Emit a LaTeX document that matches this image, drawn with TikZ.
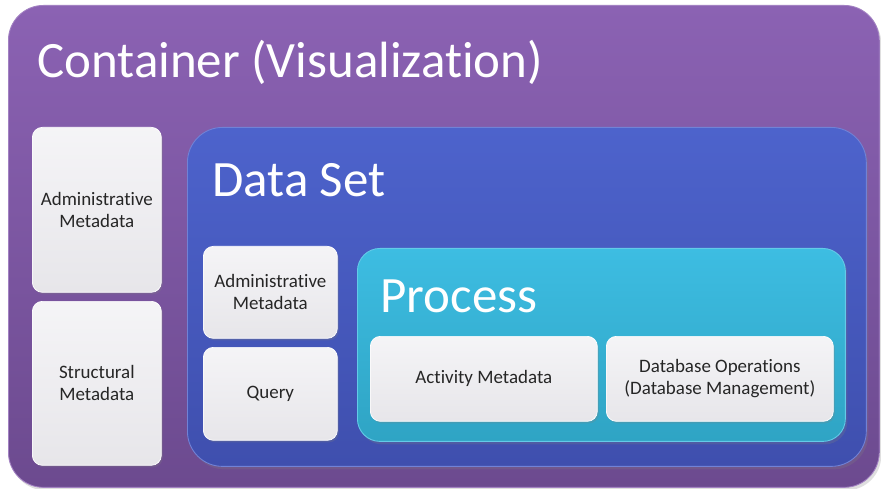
\documentclass[tikz,border=0pt]{standalone}
\usepackage{fontspec}
\setmainfont[Ligatures=NoCommon]{Carlito}
\usetikzlibrary{positioning,shadows}
\definecolor{purpletop}{HTML}{8B62B3}
\definecolor{purplebot}{HTML}{6C4A8F}
\definecolor{bluetop}{HTML}{4D63CC}
\definecolor{bluebot}{HTML}{3F4FAE}
\definecolor{cyantop}{HTML}{3DBDE2}
\definecolor{cyanbot}{HTML}{2FA4C4}
\definecolor{boxfill}{HTML}{EEEDF1}
\definecolor{boxtext}{HTML}{262626}

\begin{document}
\begin{tikzpicture}[x=0.02cm, y=-0.02cm,
    frame/.style={rectangle, anchor=north west, rounded corners=0.7cm, draw=white!20!#1top, line width=0.5pt,
        top color=#1top, bottom color=#1bot, drop shadow={opacity=0.25, shadow xshift=0.04cm, shadow yshift=-0.06cm}},
    title/.style={anchor=base west, inner sep=0pt, text=white, font=\fontsize{29}{32}\selectfont},
    box/.style={rectangle, anchor=north west, rounded corners=0.2cm, draw=white, line width=0.4pt,
        top color=boxfill!60!white, bottom color=boxfill!97!black, text=boxtext, align=center,
        font=\fontsize{10.8}{12.6}\selectfont, drop shadow={opacity=0.25, shadow xshift=0.03cm, shadow yshift=-0.04cm}}]
    \useasboundingbox[fill=white] (0,0) rectangle (881,489);
    % container
    \node[frame=purple, minimum width=17.42cm, minimum height=9.64cm] (container) at (8,5) {};
    \node[title] (containertitle) at (37,78) {Container (Visualization)};
    \node[box, minimum width=2.58cm, minimum height=3.3cm] (admincont) at (32,127) {Administrative\\ Metadata};
    \node[box, minimum width=2.58cm, minimum height=3.28cm] (structcont) at (32,301) {Structural\\ Metadata};
    % data set
    \node[frame=blue, minimum width=13.58cm, minimum height=6.78cm] (dataset) at (187,127) {};
    \node[title] (datasettitle) at (212,197) {Data Set};
    \node[box, minimum width=2.68cm, minimum height=1.84cm] (adminset) at (203,246) {Administrative\\ Metadata};
    \node[box, minimum width=2.68cm, minimum height=1.86cm] (query) at (203,347) {Query};
    % process
    \node[frame=cyan, rounded corners=0.45cm, minimum width=9.76cm, minimum height=3.86cm] (process) at (357,248) {};
    \node[title] (processtitle) at (380,312) {Process};
    \node[box, minimum width=4.54cm, minimum height=1.7cm] (activity) at (370,336) {Activity Metadata};
    \node[box, minimum width=4.54cm, minimum height=1.7cm] (dbops) at (606,336) {Database Operations\\ (Database Management)};
\end{tikzpicture}
\end{document}
